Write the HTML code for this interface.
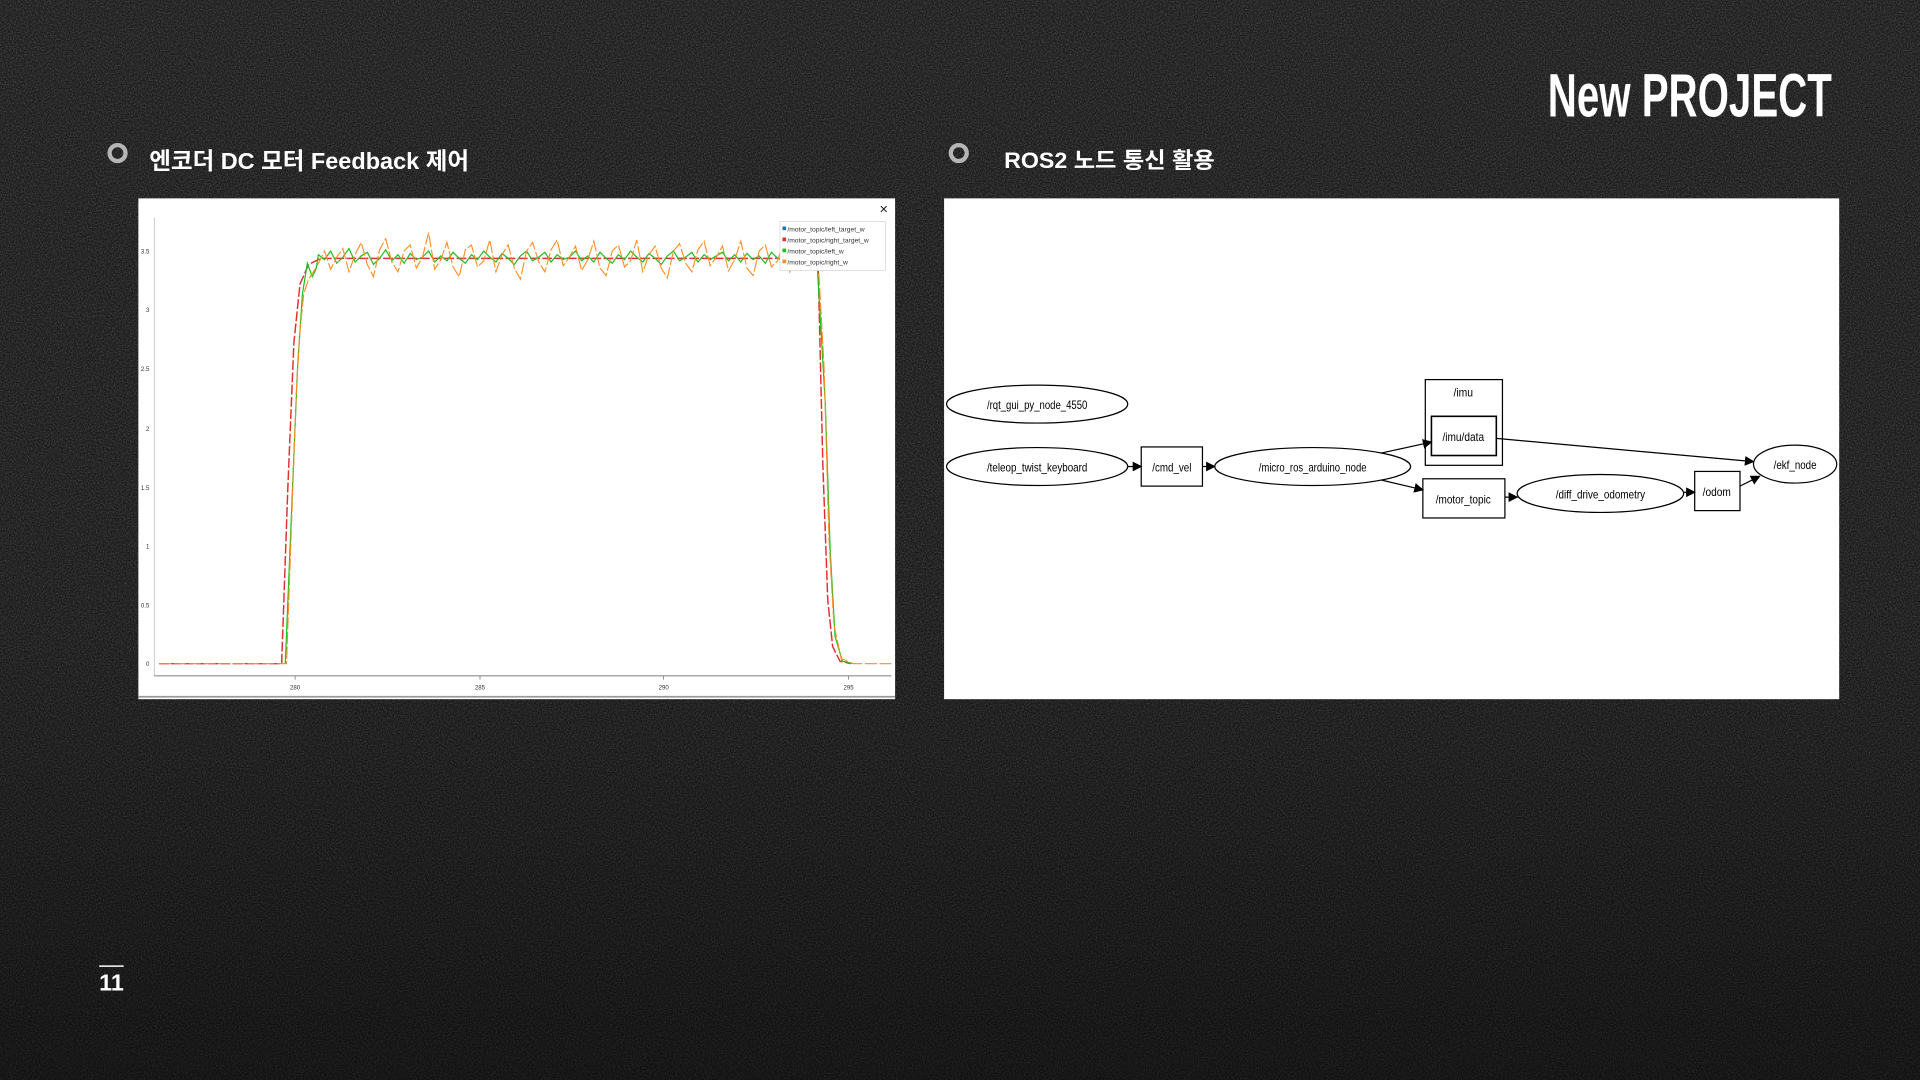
<!DOCTYPE html>
<html><head><meta charset="utf-8"><style>
html,body{margin:0;padding:0;background:#1c1c1c;width:1920px;height:1080px;overflow:hidden}
svg{display:block}
</style></head><body>
<svg width="1920" height="1080" viewBox="0 0 1568 882" xmlns="http://www.w3.org/2000/svg">
<defs>
<filter id="n" x="0" y="0" width="100%" height="100%">
<feTurbulence type="fractalNoise" baseFrequency="0.9" numOctaves="1" seed="3"/>
<feColorMatrix values="0 0 0 0 0.5 0 0 0 0 0.5 0 0 0 0 0.5 0 0 0 1.4 -0.5"/>
</filter>
<linearGradient id="v" x1="0" y1="0" x2="0" y2="1">
<stop offset="0" stop-color="#000" stop-opacity="0"/>
<stop offset="0.6" stop-color="#000" stop-opacity="0.1"/>
<stop offset="1" stop-color="#000" stop-opacity="0.45"/>
</linearGradient>
<marker id="a" markerWidth="8" markerHeight="8" refX="7" refY="4" orient="auto" markerUnits="userSpaceOnUse"><path d="M0,0 L8,4 L0,8 z" fill="#000"/></marker>
</defs>
<rect width="1568" height="882" fill="#1d1d1d"/>
<rect width="1568" height="882" filter="url(#n)" opacity="0.4"/>
<rect width="1568" height="882" fill="url(#v)"/>

<text x="1496" y="95" text-anchor="end" fill="#fff" font-family="'Liberation Sans Narrow','Liberation Sans',sans-serif" font-weight="bold" font-size="50" textLength="232" lengthAdjust="spacingAndGlyphs">New PROJECT</text>

<circle cx="96" cy="125" r="6.5" fill="none" stroke="#b5b5b5" stroke-width="3.5"/>
<text x="122" y="138" fill="#fff" font-family="'Liberation Sans','Noto Sans CJK KR',sans-serif" font-weight="bold" font-size="19" textLength="261" lengthAdjust="spacingAndGlyphs">엔코더 DC 모터  Feedback 제어</text>
<circle cx="783" cy="125" r="6.5" fill="none" stroke="#b5b5b5" stroke-width="3.5"/>
<text x="820" y="137" fill="#fff" font-family="'Liberation Sans','Noto Sans CJK KR',sans-serif" font-weight="bold" font-size="18" textLength="172" lengthAdjust="spacingAndGlyphs">ROS2 노드 통신 활용</text>

<!-- chart -->
<rect x="113" y="162" width="618" height="409" fill="#fff"/>
<line x1="113" y1="569" x2="731" y2="569" stroke="#999" stroke-width="1.5"/>
<text x="718" y="174" font-size="9" font-family="Liberation Sans,sans-serif" fill="#222">✕</text>
<line x1="126" y1="178" x2="126" y2="552" stroke="#bbb" stroke-width="0.6"/>
<line x1="126" y1="552" x2="728" y2="552" stroke="#555" stroke-width="0.6"/>
<g font-family="Liberation Sans,sans-serif" font-size="5" fill="#333" text-anchor="end">
<text x="122" y="544">0</text><text x="122" y="496">0.5</text><text x="122" y="448">1</text><text x="122" y="400">1.5</text><text x="122" y="352">2</text><text x="122" y="303">2.5</text><text x="122" y="255">3</text><text x="122" y="207">3.5</text>
</g>
<g font-family="Liberation Sans,sans-serif" font-size="5" fill="#333" text-anchor="middle">
<text x="241" y="563">280</text><text x="392" y="563">285</text><text x="542" y="563">290</text><text x="693" y="563">295</text>
</g>
<g stroke="#555" stroke-width="0.5">
<line x1="241" y1="552" x2="241" y2="555"/><line x1="392" y1="552" x2="392" y2="555"/><line x1="542" y1="552" x2="542" y2="555"/><line x1="693" y1="552" x2="693" y2="555"/>
</g>
<polyline fill="none" stroke="#e03030" stroke-width="1.2" stroke-dasharray="8 2" points="130,542 230,542 235,400 240,280 245,232 252,216 262,211 668,211 672,380 676,490 680,528 686,540 695,542"/>
<polyline fill="none" stroke="#20c020" stroke-width="1" points="233,542 238,420 243,300 247,240 251,215 255,226 258,220 260,208 265,212 270,205 275,215 280,210 285,203 290,214 295,209 300,206 305,216 310,211 315,204 320,213 325,208 330,215 335,207 340,212 345,210 350,205 355,214 360,209 365,213 370,206 375,211 380,215 385,208 390,212 395,205 400,210 405,214 410,207 415,211 420,216 425,209 430,205 435,213 440,210 445,206 450,214 455,208 460,212 465,210 470,205 475,213 480,209 485,214 490,206 495,211 500,215 505,208 510,212 515,205 520,210 525,214 530,207 535,211 540,216 545,209 550,205 555,213 560,210 565,206 570,214 575,208 580,212 585,209 590,206 595,213 600,208 605,214 610,207 615,212 620,209 625,215 630,206 635,211 640,213 645,208 650,212 655,207 660,213 667,210 674,330 678,450 682,520 688,540 697,542"/>
<polyline fill="none" stroke="#ff8c20" stroke-width="0.9" stroke-dasharray="10 2" points="130,542 234,542 238,430 242,320 245,270 248,240 252,228 256,222 260,215 265,205 270,220 275,210 280,203 285,222 290,208 295,198 300,216 305,226 310,204 315,195 320,214 325,222 330,205 335,200 340,219 345,210 350,190 355,220 360,212 365,198 370,218 375,226 380,204 385,200 390,218 395,213 400,196 405,222 410,208 415,200 420,219 425,228 430,205 435,198 440,214 445,222 450,204 455,196 460,217 465,210 470,201 475,221 480,212 485,197 490,219 495,225 500,205 505,200 510,218 515,213 520,196 525,222 530,208 535,201 540,219 545,227 550,205 555,199 560,215 565,222 570,204 575,197 580,217 585,210 590,201 595,221 600,212 605,197 610,219 615,225 620,205 625,200 630,218 635,213 640,198 645,222 650,208 655,201 660,218 668,210 673,300 677,440 681,510 687,538 697,542 728,542"/>
<rect x="637" y="181" width="86" height="40" fill="#fff" stroke="#ccc" stroke-width="0.5"/>
<g font-family="Liberation Sans,sans-serif" font-size="5.5" fill="#333">
<rect x="639" y="185" width="3" height="3" fill="#2070c0"/><text x="643" y="189">/motor_topic/left_target_w</text>
<rect x="639" y="194" width="3" height="3" fill="#e03030"/><text x="643" y="198">/motor_topic/right_target_w</text>
<rect x="639" y="203" width="3" height="3" fill="#20c020"/><text x="643" y="207">/motor_topic/left_w</text>
<rect x="639" y="212" width="3" height="3" fill="#ff8c20"/><text x="643" y="216">/motor_topic/right_w</text>
</g>

<!-- ROS graph -->
<rect x="771" y="162" width="731" height="409" fill="#fff"/>
<g fill="none" stroke="#000" stroke-width="1">
<ellipse cx="847" cy="330" rx="74" ry="15.5"/>
<ellipse cx="847" cy="381" rx="74" ry="15.5"/>
<rect x="932" y="365" width="50" height="32"/>
<ellipse cx="1072" cy="381" rx="80" ry="15.5"/>
<rect x="1164" y="310" width="63" height="70"/>
<rect x="1169" y="340" width="53" height="32" stroke-width="1.3"/>
<rect x="1162" y="391" width="67" height="32"/>
<ellipse cx="1307" cy="403" rx="68" ry="15.5"/>
<rect x="1384" y="385" width="37" height="32"/>
<ellipse cx="1466" cy="379" rx="34" ry="15.5"/>
</g>
<g stroke="#000" stroke-width="1" marker-end="url(#a)">
<line x1="921" y1="381" x2="932" y2="381"/>
<line x1="982" y1="381" x2="992" y2="381"/>
<line x1="1128" y1="370" x2="1169" y2="361"/>
<line x1="1128" y1="392" x2="1162" y2="400"/>
<line x1="1229" y1="406" x2="1239" y2="406"/>
<line x1="1375" y1="402" x2="1384" y2="402"/>
<line x1="1421" y1="397" x2="1437" y2="389"/>
<line x1="1222" y1="358" x2="1432" y2="377"/>
</g>
<g font-family="'Liberation Sans Narrow','Liberation Sans',sans-serif" font-size="10" fill="#000" text-anchor="middle" lengthAdjust="spacingAndGlyphs">
<text x="847" y="334" textLength="82" lengthAdjust="spacingAndGlyphs">/rqt_gui_py_node_4550</text>
<text x="847" y="385" textLength="82" lengthAdjust="spacingAndGlyphs">/teleop_twist_keyboard</text>
<text x="957" y="385" textLength="32" lengthAdjust="spacingAndGlyphs">/cmd_vel</text>
<text x="1072" y="385" textLength="88" lengthAdjust="spacingAndGlyphs">/micro_ros_arduino_node</text>
<text x="1195" y="324" textLength="16" lengthAdjust="spacingAndGlyphs">/imu</text>
<text x="1195" y="360" textLength="34" lengthAdjust="spacingAndGlyphs">/imu/data</text>
<text x="1195" y="411" textLength="45" lengthAdjust="spacingAndGlyphs">/motor_topic</text>
<text x="1307" y="407" textLength="73" lengthAdjust="spacingAndGlyphs">/diff_drive_odometry</text>
<text x="1402" y="405" textLength="23" lengthAdjust="spacingAndGlyphs">/odom</text>
<text x="1466" y="383" textLength="35" lengthAdjust="spacingAndGlyphs">/ekf_node</text>
</g>

<line x1="81" y1="789" x2="101" y2="789" stroke="#fff" stroke-width="1.2"/>
<text x="81" y="809" fill="#fff" font-family="'Liberation Sans Narrow','Liberation Sans',sans-serif" font-weight="bold" font-size="19">11</text>
</svg>
</body></html>
